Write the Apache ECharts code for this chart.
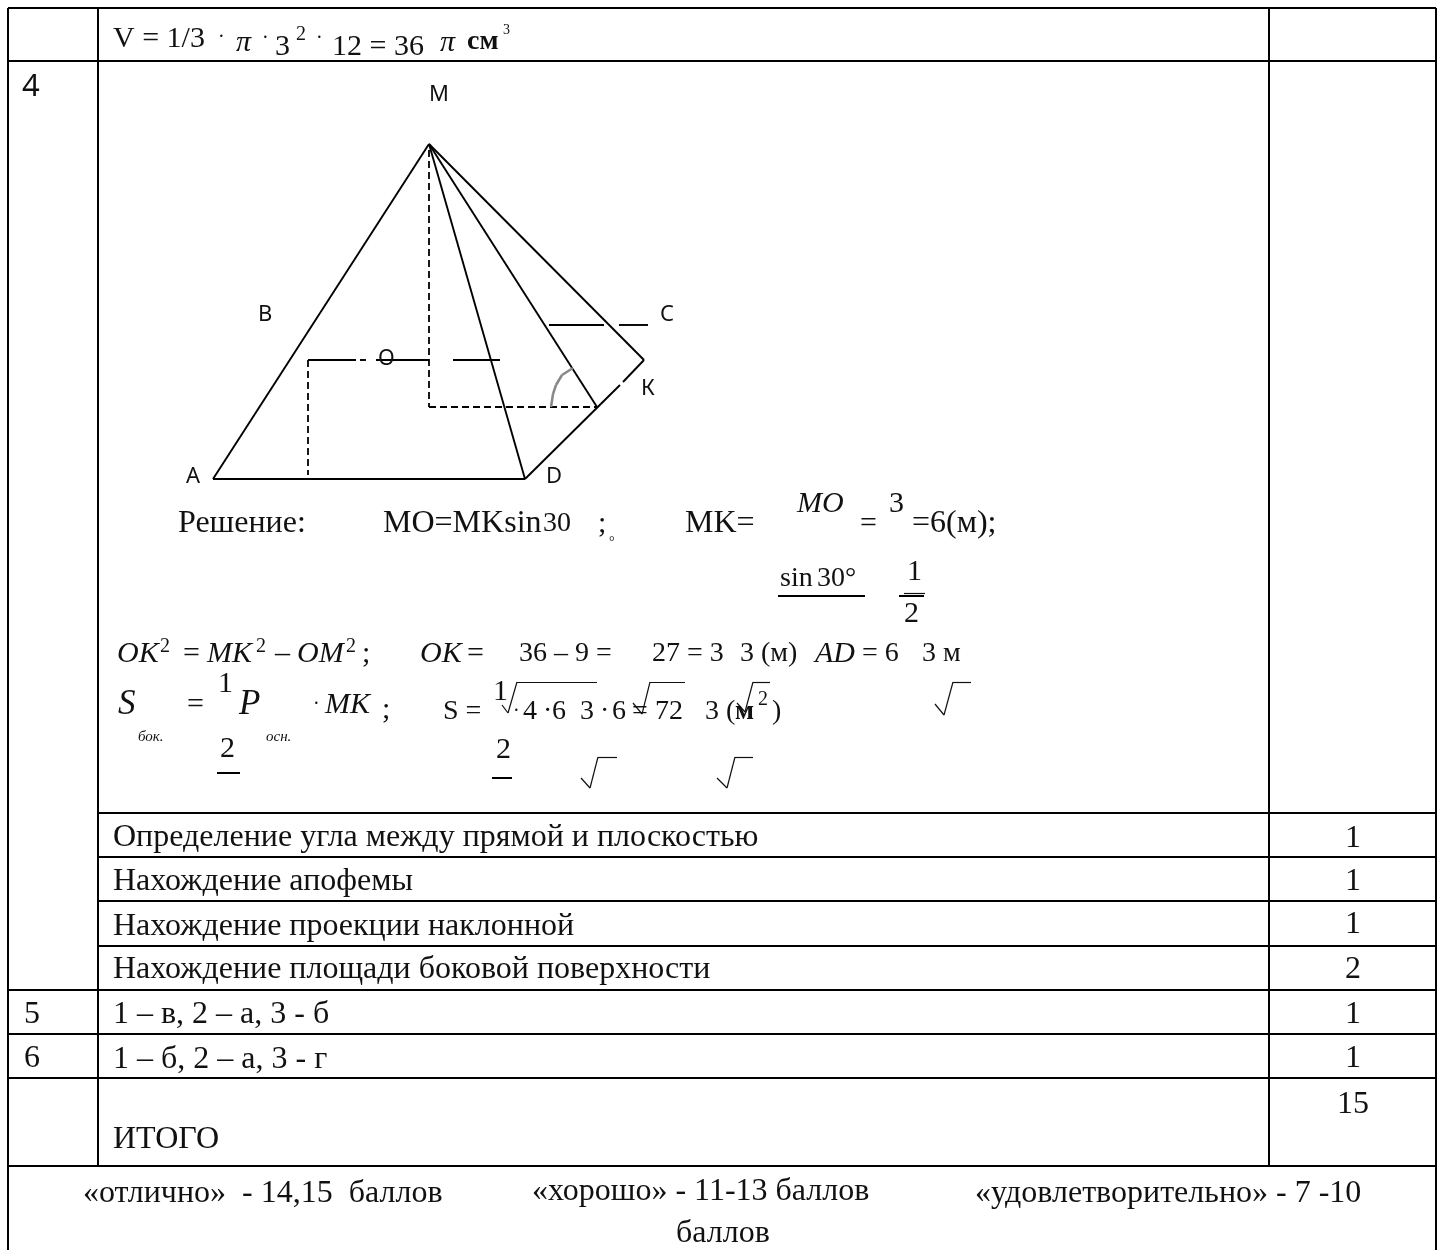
<!DOCTYPE html>
<html>
<head>
<meta charset="utf-8">
<title>Таблица</title>
<script src="https://cdn.jsdelivr.net/npm/echarts@6/dist/echarts.min.js"></script>
<style>
html, body { margin: 0; padding: 0; background: #fff; }
#main { width: 1445px; height: 1250px; }
</style>
</head>
<body>
<div id="main"></div>
<script>
// table rules, x1 y1 x2 y2 in page units
const tableRules = [
  [8, 8, 1436, 8], [8, 61, 1436, 61], [98, 813, 1436, 813], [98, 857, 1436, 857],
  [98, 901, 1436, 901], [98, 946, 1436, 946], [8, 990, 1436, 990], [8, 1034, 1436, 1034],
  [8, 1078, 1436, 1078], [8, 1166, 1436, 1166],
  [8, 8, 8, 1250], [1436, 8, 1436, 1250], [98, 8, 98, 1166], [1269, 8, 1269, 1166]
];
// pyramid outline
const pyramidSolid = [
  [429, 144, 213, 479], [213, 479, 525, 479], [525, 479, 620, 385], [623, 382, 644, 360],
  [644, 360, 429, 144], [429, 144, 525, 479], [429, 144, 597, 407],
  [549, 325, 604, 325], [619, 325, 648, 325], [308, 360, 356, 360], [360, 360, 366, 360],
  [376, 360, 429, 360], [453, 360, 500, 360]
];
const pyramidDashed = [[429, 150, 429, 407], [429, 407, 597, 407], [308, 360, 308, 475]];
const angleArc = [[551, 407, 553, 394], [553, 394, 556, 385], [556, 385, 562, 375], [562, 375, 573, 368]];
// radical signs and fraction bars
const formulaMarks = [
  [502, 705, 508, 713], [508, 713, 517, 682], [517, 682, 597, 682],
  [633, 703, 642, 714], [642, 714, 650, 682], [650, 682, 685, 682],
  [737, 703, 745, 712], [745, 712, 753, 682], [753, 682, 770, 682],
  [935, 704, 944, 715], [944, 715, 953, 682], [953, 682, 971, 682],
  [581, 778, 590, 788], [590, 788, 598, 757], [598, 757, 617, 757],
  [717, 778, 727, 788], [727, 788, 735, 757], [735, 757, 753, 757],
  [904, 593, 925, 593]
];
const formulaBars = [[778, 596, 865, 596], [899, 596, 924, 596], [217, 773, 240, 773], [492, 778, 512, 778]];

// text as x, y, string
const rowTexts = [
  [178, 522, 'Решение:'], [383, 522, 'MO=MKsin'], [685, 522, 'MK='], [912, 522, '=6(м);'],
  [113, 836, 'Определение угла между прямой и плоскостью'],
  [113, 880, 'Нахождение апофемы'],
  [113, 925, 'Нахождение проекции наклонной'],
  [113, 968, 'Нахождение площади боковой поверхности'],
  [24, 1013, '5'], [24, 1057, '6'],
  [113, 1013, '1 – в, 2 – а, 3 - б'], [113, 1058, '1 – б, 2 – а, 3 - г'], [113, 1138, 'ИТОГО'],
  [1345, 837, '1'], [1345, 880, '1'], [1345, 923, '1'], [1345, 968, '2'], [1345, 1013, '1'], [1345, 1057, '1'], [1337, 1103, '15'],
  [83, 1192, '«отлично»  - 14,15  баллов'], [532, 1190, '«хорошо» - 11-13 баллов'],
  [975, 1192, '«удовлетворительно» - 7 -10'], [676, 1232, 'баллов']
];
const formulaTexts = [
  [113, 37, 'V = 1/3'], [275, 45, '3'], [332, 45, '12 = 36'],
  [598, 522, ';'], [860, 522, '='], [889, 502, '3'], [907, 570, '1'], [904, 612, '2'],
  [183, 652, '='], [275, 652, '–'], [362, 652, ';'], [467, 652, '='],
  [187, 703, '='], [218, 682, '1'], [220, 747, '2'], [382, 708, ';'],
  [493, 690, '1'], [496, 748, '2']
];
const formulaCompact = [
  [543, 522, '30'], [780, 577, 'sin'], [817, 577, '30°'],
  [519, 652, '36 – 9 ='], [652, 652, '27 = 3'], [740, 652, '3 (м)'], [862, 652, '= 6'], [922, 652, '3 м'],
  [443, 710, 'S ='], [523, 710, '4'], [543, 710, '·'], [552, 710, '6'], [580, 710, '3'], [600, 710, '·'], [612, 710, '6'],
  [632, 710, '='], [655, 710, '72'], [705, 710, '3 ('], [772, 710, ')']
];
const serifItalic = [
  [236, 41, 'π'], [440, 41, 'π'], [797, 502, 'MO'],
  [117, 652, 'OK'], [207, 652, 'MK'], [297, 652, 'OM'], [420, 652, 'OK'], [815, 652, 'AD'],
  [325, 703, 'MK']
];
const italicLarge = [[118, 703, 'S'], [239, 703, 'P']];
const serifSmall = [
  [296, 33, '2'], [160, 645, '2'], [256, 645, '2'], [346, 645, '2'], [758, 698, '2'],
  [218, 36, '·'], [262, 37, '·'], [316, 37, '·'], [313, 703, '·'], [513, 710, '·']
];
const serifTiny = [[503, 28, '3'], [609, 540, '°']];
const italicSmall = [[138, 735, 'бок.'], [266, 735, 'осн.']];
const serifBold = [[467, 40, 'см'], [735, 710, 'м']];
const pointLabels = [
  [429, 93, 'М'], [258, 313, 'В'], [660, 313, 'С'], [378, 357, 'О'], [641, 387, 'К'], [186, 475, 'А'], [546, 475, 'D']
];
const rowNumber = [[22, 85, '4']];

const SERIF = '"Liberation Serif", serif';
const SANS = '"Noto Sans", sans-serif';

function ruleSeries (rows, width, color, type) {
  return {
    type: 'lines',
    coordinateSystem: 'cartesian2d',
    polyline: false,
    silent: true,
    animation: false,
    z: 2,
    lineStyle: { width: width, color: color, opacity: 1, type: type || 'solid' },
    data: rows.map(r => ({ coords: [[r[0], r[1]], [r[2], r[3]]] }))
  };
}

function textSeries (rows, font) {
  return {
    type: 'custom',
    coordinateSystem: 'cartesian2d',
    silent: true,
    animation: false,
    clip: false,
    z: 3,
    encode: { x: 0, y: 1 },
    data: rows.map(r => [r[0], r[1]]),
    renderItem: function (params, api) {
      const p = api.coord([api.value(0), api.value(1)]);
      return {
        type: 'text',
        x: p[0],
        y: p[1] + 2, // middle of the em box sits above the visual middle
        style: Object.assign({
          text: rows[params.dataIndex][2],
          fill: '#111',
          align: 'left',
          verticalAlign: 'middle'
        }, font)
      };
    }
  };
}

const chart = echarts.init(document.getElementById('main'), null, { renderer: 'canvas' });
chart.setOption({
  backgroundColor: '#fff',
  animation: false,
  grid: { left: 0, right: 0, top: 0, bottom: 0 },
  xAxis: { type: 'value', min: 0, max: 1445, show: false },
  yAxis: { type: 'value', min: 0, max: 1250, inverse: true, show: false },
  series: [
    ruleSeries(tableRules, 2, '#000'),
    ruleSeries(pyramidSolid, 1.9, '#000'),
    ruleSeries(pyramidDashed, 1.8, '#000', [7, 4]),
    ruleSeries(angleArc, 2.5, '#888'),
    ruleSeries(formulaMarks, 1.2, '#111'),
    ruleSeries(formulaBars, 2, '#000'),
    textSeries(rowTexts, { fontFamily: SERIF, fontSize: 32 }),
    textSeries(formulaTexts, { fontFamily: SERIF, fontSize: 30 }),
    textSeries(formulaCompact, { fontFamily: SERIF, fontSize: 28 }),
    textSeries(serifItalic, { fontFamily: SERIF, fontSize: 30, fontStyle: 'italic' }),
    textSeries(italicLarge, { fontFamily: SERIF, fontSize: 35, fontStyle: 'italic' }),
    textSeries(serifSmall, { fontFamily: SERIF, fontSize: 20 }),
    textSeries(serifTiny, { fontFamily: SERIF, fontSize: 14 }),
    textSeries(italicSmall, { fontFamily: SERIF, fontSize: 15, fontStyle: 'italic' }),
    textSeries(serifBold, { fontFamily: SERIF, fontSize: 28, fontWeight: 'bold' }),
    textSeries(pointLabels, { fontFamily: SANS, fontSize: 22 }),
    textSeries(rowNumber, { fontFamily: SANS, fontSize: 31 })
  ]
});
</script>
</body>
</html>
